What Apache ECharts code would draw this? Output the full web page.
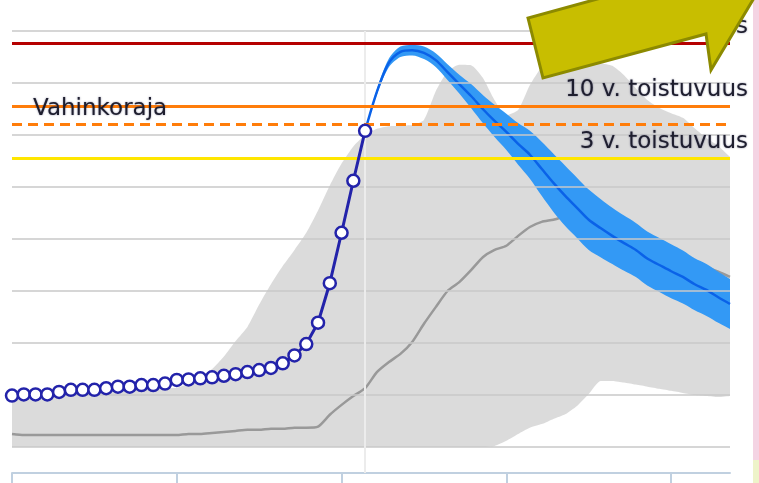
<!DOCTYPE html>
<html>
<head>
<meta charset="utf-8">
<script src="https://cdn.jsdelivr.net/npm/echarts@6/dist/echarts.min.js"></script>
<style>
html, body { margin: 0; padding: 0; background: #fff; }
#main { width: 759px; height: 483px; }
</style>
</head>
<body>
<div id="main"></div>
<script>
// one category per day, days 0..61 in the view
var days = [];
for (var d = 0; d <= 61; d++) days.push(d);

var obsStart = 0;
var observed = [9.9, 10.1, 10.1, 10.1, 10.6, 11.0, 11.0, 11.0, 11.3, 11.6, 11.6, 11.9, 11.9, 12.2, 12.9, 13.0,
    13.2, 13.4, 13.7, 14.0, 14.4, 14.8, 15.2, 16.1, 17.6, 19.8, 23.9, 31.5, 41.2, 51.2, 60.8];

// ennuste (forecast) from day 30
var fcStart = 30;
var fcMid = [60.8, 68.3, 73.8, 76.0, 76.3, 75.8, 74.4, 72.1, 69.8, 67.5, 65.0, 62.7, 60.6, 58.3, 56.2, 53.5,
    50.8, 48.3, 46.0, 43.7, 42.1, 40.6, 39.2, 37.9, 36.2, 35.0, 33.8, 32.7, 31.3, 30.2, 28.8, 27.5];
var fcLow = [60.6, 67.8, 73.0, 75.0, 75.3, 74.6, 73.1, 70.6, 68.0, 65.2, 62.3, 59.6, 57.1, 54.3, 51.6, 48.3,
    45.2, 42.5, 40.2, 37.9, 36.5, 35.2, 33.9, 32.7, 31.0, 29.8, 28.6, 27.6, 26.3, 25.2, 23.9, 22.7];
var fcHigh = [61.0, 68.8, 74.6, 77.0, 77.3, 77.0, 75.7, 73.6, 71.6, 69.8, 67.7, 65.8, 64.1, 62.3, 60.8, 58.7,
    56.4, 54.1, 51.8, 49.5, 47.7, 46.0, 44.5, 43.1, 41.4, 40.2, 39.0, 37.8, 36.3, 35.2, 33.7, 32.3];

// historical min / max / median, days 0..61
var histMin = [-1.2, -1.2, -1.2, -1.2, -1.2, -1.2, -1.2, -1.2, -1.2, -1.2, -1.2, -1.2, -1.2, -1.2, -1.2, -1.2,
    -1.2, -1.2, -1.2, -1.2, -1.2, -1.1, -1.1, -1.1, -1.0, -1.0, -0.9, -0.9, -0.8, -0.7, -0.6, -0.6,
    -0.5, -0.5, -0.4, -0.4, -0.3, -0.3, -0.2, -0.1, 0.0, 0.2, 1.2, 2.5, 3.7, 4.4, 5.4, 6.3,
    7.9, 10.2, 12.7, 12.7, 12.4, 12.0, 11.6, 11.2, 10.8, 10.4, 10.0, 9.8, 9.6, 9.8];
var histMax = [9.6, 9.6, 9.7, 9.7, 9.8, 9.8, 9.8, 9.9, 9.9, 9.9, 10.0, 10.0, 10.1, 10.1, 10.2, 11.0,
    12.3, 13.8, 16.2, 19.2, 21.9, 26.3, 30.2, 33.7, 36.9, 40.2, 44.6, 49.4, 53.7, 57.1, 59.4, 60.6,
    61.2, 61.3, 61.5, 62.5, 68.1, 71.9, 73.3, 73.3, 71.0, 66.7, 63.8, 64.8, 69.6, 73.1, 74.8, 75.0,
    74.8, 74.4, 73.8, 73.3, 71.5, 69.0, 66.7, 65.2, 64.2, 63.3, 61.3, 59.4, 57.9, 55.8];
var histMedian = [2.5, 2.3, 2.3, 2.3, 2.3, 2.3, 2.3, 2.3, 2.3, 2.3, 2.3, 2.3, 2.3, 2.3, 2.3, 2.5,
    2.5, 2.7, 2.9, 3.1, 3.3, 3.3, 3.5, 3.5, 3.7, 3.7, 3.9, 6.2, 8.1, 9.8, 11.3, 14.4,
    16.3, 17.9, 20.2, 23.7, 26.9, 30.0, 31.7, 34.0, 36.5, 37.9, 38.7, 40.6, 42.3, 43.3, 43.7, 44.4,
    44.8, 43.7, 42.5, 41.3, 41.0, 40.4, 39.6, 38.7, 37.7, 36.5, 35.4, 34.6, 33.7, 32.7];

var gridValues = [0, 10, 20, 30, 40, 50, 60, 70, 80];
var limitValues = [77.7, 65.6, 62.1, 55.6];
var limitLabels = ['50 v. toistuvuus', '10 v. toistuvuus', 'Vahinkoraja', '3 v. toistuvuus'];
var limitColors = ['#b50000', '#ff7d0a', '#ff7d0a', '#ffe600'];
var limitTypes = ['solid', 'solid', [10, 6], 'solid'];
var today = 30;

// put a series that starts on a given day onto the full day list
function place(start, arr) {
    return days.map(function(d) {
        var i = d - start;
        return (i >= 0 && i < arr.length) ? arr[i] : '-';
    });
}
function diff(hi, lo) {
    return hi.map(function(v, i) { return +(v - lo[i]).toFixed(2); });
}

var myChart = echarts.init(document.getElementById('main'));

myChart.setOption({
    animation: false,
    grid: {left: 12, right: 29, top: 31, bottom: 10},
    xAxis: {
        type: 'category', data: days, boundaryGap: false,
        axisLine: {show: true, onZero: false, lineStyle: {color: '#c0d0e0', width: 2}},
        axisTick: {show: true, interval: 13, length: 12, lineStyle: {color: '#c0d0e0', width: 2}},
        axisLabel: {show: false},
        splitLine: {show: false}
    },
    yAxis: {
        type: 'value', min: -5, max: 80,
        axisLine: {show: false}, axisTick: {show: false},
        axisLabel: {show: false}, splitLine: {show: false}
    },
    series: [
        {   // historical range
            type: 'line', name: 'histLow', stack: 'hist', z: 2,
            data: histMin, symbol: 'none', smooth: 0.2,
            lineStyle: {opacity: 0}
        },
        {
            type: 'line', name: 'histRange', stack: 'hist', z: 2,
            data: diff(histMax, histMin), symbol: 'none', smooth: 0.2,
            lineStyle: {opacity: 0},
            areaStyle: {color: 'rgba(195,195,195,0.6)', opacity: 1}
        },
        {   // median + grid lines + today
            type: 'line', name: 'median', z: 3,
            data: histMedian, symbol: 'none', smooth: 0.2,
            lineStyle: {color: '#999999', width: 2.5},
            markLine: {
                silent: true, symbol: 'none', label: {show: false},
                data: gridValues.map(function(v) {
                    return {yAxis: v, lineStyle: {color: '#c8c8c8', width: 1.5, type: 'solid'}};
                }).concat([{xAxis: today, lineStyle: {color: '#ececec', width: 2, type: 'solid'}}])
            }
        },
        {
            type: 'line', name: 'fcLow', stack: 'fc', z: 4,
            data: place(fcStart, fcLow), symbol: 'none', smooth: 0.3,
            lineStyle: {opacity: 0}
        },
        {
            type: 'line', name: 'fcRange', stack: 'fc', z: 4,
            data: place(fcStart, diff(fcHigh, fcLow)), symbol: 'none', smooth: 0.3,
            lineStyle: {opacity: 0},
            areaStyle: {color: '#3399f5', opacity: 1}
        },
        {
            type: 'line', name: 'ennuste', z: 4,
            data: place(fcStart, fcMid), symbol: 'none', smooth: 0.3,
            lineStyle: {color: '#0a62e8', width: 2.5}
        },
        {
            type: 'line', name: 'havainnot', z: 5,
            data: place(obsStart, observed),
            symbol: 'circle', symbolSize: 12, showAllSymbol: true,
            lineStyle: {color: '#2323aa', width: 3},
            itemStyle: {color: '#ffffff', borderColor: '#2323aa', borderWidth: 2.5}
        },
        {   // limit lines
            type: 'line', name: 'rajat', z: 6, data: [],
            markLine: {
                silent: true, symbol: 'none', label: {show: false},
                data: limitValues.map(function(v, i) {
                    return {yAxis: v, lineStyle: {color: limitColors[i], width: 3, type: limitTypes[i]}};
                })
            }
        }
    ]
});

// labels next to the limit lines
var labelEls = limitValues.map(function(v, i) {
    var p = myChart.convertToPixel({gridIndex: 0}, [days.length - 1, v]);
    var isLeft = limitLabels[i] === 'Vahinkoraja';
    return {
        type: 'text', z: 50,
        x: isLeft ? 33 : p[0] + 18,
        y: p[1] - 4,
        style: {
            text: limitLabels[i],
            font: '23px "DejaVu Sans"',
            fill: '#1e1e2e',
            textAlign: isLeft ? 'left' : 'right',
            textVerticalAlign: 'bottom',
            textShadowColor: 'rgba(0,0,60,0.45)',
            textShadowBlur: 2
        }
    };
});

myChart.setOption({
    graphic: labelEls.concat([
        {   // pink page edge on the right
            type: 'rect', z: 40, shape: {x: 753, y: 0, width: 6, height: 460},
            style: {fill: '#f4d3e3'}
        },
        {
            type: 'rect', z: 40, shape: {x: 753, y: 460, width: 6, height: 23},
            style: {fill: '#eef3c9'}
        },
        {   // highlight arrow
            type: 'polygon', z: 100,
            shape: {points: [[528, 18], [543, 78], [706, 34], [711, 70], [760, -12], [676, -59], [685, -25]]},
            style: {fill: '#c8be00', stroke: '#8c8a00', lineWidth: 3}
        }
    ])
});
</script>
</body>
</html>
